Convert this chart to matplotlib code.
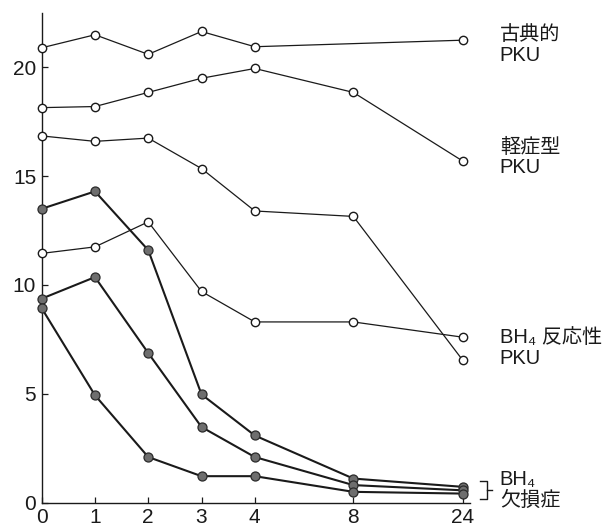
import matplotlib
matplotlib.use("Agg")
import matplotlib.pyplot as plt
import numpy as np

# ---- data ----
hours = ["0", "1", "2", "3", "4", "8", "24"]
classic_pku = [20.9, 21.5, 20.6, 21.65, 20.95, None, 21.25]
mild_pku_a = [18.15, 18.2, 18.85, 19.5, 19.95, 18.85, 15.7]
mild_pku_b = [16.85, 16.6, 16.75, 15.35, 13.4, 13.15, 6.55]
responsive_pku = [11.45, 11.75, 12.9, 9.7, 8.3, 8.3, 7.6]
deficiency_a = [13.5, 14.3, 11.6, 4.97, 3.08, 1.10, 0.72]
deficiency_b = [9.37, 10.36, 6.87, 3.47, 2.09, 0.80, 0.56]
deficiency_c = [8.93, 4.93, 2.09, 1.21, 1.21, 0.49, 0.41]
yticks = [0, 5, 10, 15, 20]
labels = ["古典的\nPKU", "軽症型\nPKU", "BH\u2084 反応性\nPKU", "BH\u2084\n欠損症"]

# ---- layout (axis slot for each time point) ----
x_slots = [0, 1, 2, 3, 4, 5.85, 7.9]
label_y = [21.03, 15.86, 7.09, 0.57]

plt.rcParams['font.family'] = ['Liberation Sans', 'Noto Sans CJK JP', 'DejaVu Sans']

fig = plt.figure(figsize=(6.11, 5.31), dpi=100)
ax = fig.add_axes([41.7 / 611, 28.5 / 531, (470 - 41.7) / 611, (502.5 - 13) / 531])


def plot_series(vals, filled):
    xs = [x for x, v in zip(x_slots, vals) if v is not None]
    ys = [v for v in vals if v is not None]
    if filled:
        ax.plot(xs, ys, color="#1a1a1a", lw=1.5, marker="o", ms=6.5,
                mfc="#6e6e6e", mec="#2a2a2a", mew=0.9, clip_on=False, zorder=3)
    else:
        ax.plot(xs, ys, color="#1a1a1a", lw=0.9, marker="o", ms=6.0,
                mfc="white", mec="#1a1a1a", mew=1.0, clip_on=False, zorder=4)


for s in (classic_pku, mild_pku_a, mild_pku_b, responsive_pku):
    plot_series(s, False)
for s in (deficiency_a, deficiency_b, deficiency_c):
    plot_series(s, True)

ax.set_xlim(0, 8.04)
ax.set_ylim(0, 22.5)
ax.set_xticks(x_slots)
ax.set_xticklabels(hours)
ax.set_yticks(yticks)
ax.set_yticklabels([str(t) for t in yticks])
for side in ("top", "right"):
    ax.spines[side].set_visible(False)
for side in ("left", "bottom"):
    ax.spines[side].set_linewidth(1.0)
    ax.spines[side].set_color("#1a1a1a")
ax.tick_params(axis="both", direction="in", length=4.5, width=0.9, colors="#1a1a1a",
               labelsize=15, labelcolor="#1a1a1a")
ax.tick_params(axis="x", pad=4)
ax.tick_params(axis="y", pad=4)

# right-side labels
for txt, yy in zip(labels, label_y):
    ax.text(8.6, yy, txt, ha="left", va="center", fontsize=14.5,
            linespacing=1.12, color="#1a1a1a", clip_on=False,
            family=['Liberation Sans', 'Noto Sans CJK JP', 'DejaVu Sans'])

# bracket for BH4 deficiency
bx0, bx1, bx2 = 8.22, 8.35, 8.45
by0, by1, bym = 0.99, 0.16, 0.57
ax.plot([bx0, bx1, bx1, bx0], [by0, by0, by1, by1], color="#1a1a1a", lw=1.0, clip_on=False)
ax.plot([bx1, bx2], [bym, bym], color="#1a1a1a", lw=1.0, clip_on=False)

fig.savefig("out.png", dpi=100)
